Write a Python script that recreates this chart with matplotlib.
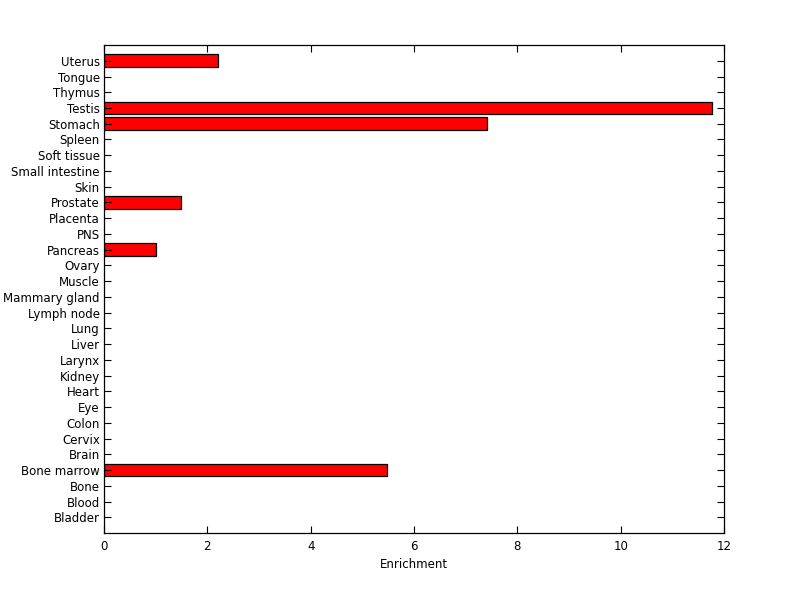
import numpy as np
import matplotlib.pyplot as plt

plt.rcParams['font.family'] = 'DejaVu Sans'
plt.rcParams.update({'font.size': 8.5})

tissues = ['Bladder', 'Blood', 'Bone', 'Bone marrow', 'Brain', 'Cervix', 'Colon',
           'Eye', 'Heart', 'Kidney', 'Larynx', 'Liver', 'Lung', 'Lymph node',
           'Mammary gland', 'Muscle', 'Ovary', 'Pancreas', 'PNS', 'Placenta',
           'Prostate', 'Skin', 'Small intestine', 'Soft tissue', 'Spleen',
           'Stomach', 'Testis', 'Thymus', 'Tongue', 'Uterus']
enrichment = [0, 0, 0, 5.48, 0, 0, 0,
              0, 0, 0, 0, 0, 0, 0,
              0, 0, 0, 1.01, 0, 0,
              1.49, 0, 0, 0, 0,
              7.42, 11.76, 0, 0, 2.21]
xticks = [0, 2, 4, 6, 8, 10, 12]

fig = plt.figure(figsize=(8, 5.99), dpi=100)
ax = fig.add_axes([0.13, 0.1102, 0.775, 0.8146])

pos = np.arange(1, len(tissues) + 1)
vals = np.array(enrichment)
mask = vals > 0
ax.barh(pos[mask], vals[mask], height=0.8, color='red', edgecolor='black', linewidth=0.9)

ax.set_xlim(0, 12)
ax.set_ylim(0, len(tissues) + 1)
ax.set_xticks(xticks)
ax.set_yticks(pos)
ax.set_yticklabels(tissues)
ax.set_xlabel('Enrichment', labelpad=4)

ax.tick_params(axis='both', direction='in', length=5, width=0.8, colors='black')
ax.tick_params(axis='y', right=True, pad=3)
ax.tick_params(axis='x', top=True, pad=5)
for s in ax.spines.values():
    s.set_linewidth(0.9)

plt.savefig('out.png', dpi=100)
